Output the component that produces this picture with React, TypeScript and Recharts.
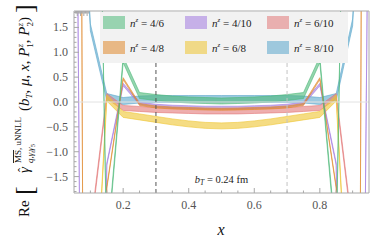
import React from 'react';
import { ComposedChart, Area, XAxis, YAxis, ReferenceLine, ReferenceDot } from 'recharts';

// x grid of the kernel and central values for each momentum pair
const xs = [0.05, 0.1, 0.15, 0.2, 0.25, 0.3, 0.35, 0.4, 0.45, 0.5, 0.55, 0.6, 0.65, 0.7, 0.75, 0.8, 0.85, 0.9, 0.95];
const nz46 = [10, 15, -3.0, 0.85, 0.13, 0.09, 0.06, 0.04, 0.03, 0.02, 0.03, 0.04, 0.06, 0.09, 0.13, 0.85, -2.9, 15, 10];
const nz48 = [40, -40, -1.72, 0.47, -0.05, -0.1, -0.12, -0.13, -0.14, -0.145, -0.14, -0.13, -0.12, -0.1, -0.05, 0.47, -1.72, -40, 40];
const nz410 = [12, -30, -1.25, 0.35, -0.03, -0.07, -0.09, -0.1, -0.11, -0.11, -0.11, -0.1, -0.09, -0.07, -0.03, 0.35, -1.25, -30, 6];
const nz68 = [-15, -6, 0.08, -0.25, -0.3, -0.35, -0.4, -0.44, -0.47, -0.48, -0.47, -0.44, -0.4, -0.35, -0.3, -0.25, 0.08, -6, -15];
const nz610 = [-6, -2.6, 0.12, -0.12, -0.14, -0.16, -0.17, -0.18, -0.19, -0.19, -0.19, -0.18, -0.17, -0.16, -0.14, -0.12, 0.12, -2.6, -6];
const nz810 = [8, 1.5, 0.1, 0.02, 0.05, 0.06, 0.06, 0.06, 0.06, 0.06, 0.06, 0.06, 0.06, 0.06, 0.05, 0.02, 0.1, 1.6, 8];

const xTicks = [0.1, 0.15, 0.2, 0.25, 0.3, 0.35, 0.4, 0.45, 0.5, 0.55, 0.6, 0.65, 0.7, 0.75, 0.8, 0.85, 0.9];
const yTicks = [-1.8, -1.7, -1.6, -1.5, -1.4, -1.3, -1.2, -1.1, -1.0, -0.9, -0.8, -0.7, -0.6, -0.5, -0.4, -0.3, -0.2, -0.1, 0,
  0.1, 0.2, 0.3, 0.4, 0.5, 0.6, 0.7, 0.8, 0.9, 1.0, 1.1, 1.2, 1.3, 1.4, 1.5, 1.6, 1.7, 1.8];

const serif = '"Liberation Serif", "DejaVu Serif", serif';
const frame = '#a8a8a8';

const series = [
  { key: 'b810', label: '8/10', color: '#5aa6cc', hw: 0.07, vals: nz810 },
  { key: 'r610', label: '6/10', color: '#e27878', hw: 0.05, vals: nz610 },
  { key: 'y68', label: '6/8', color: '#efc530', hw: 0.06, vals: nz68 },
  { key: 'p410', label: '4/10', color: '#a27ae0', hw: 0.025, vals: nz410 },
  { key: 'o48', label: '4/8', color: '#e0892c', hw: 0.02, vals: nz48 },
  { key: 'g46', label: '4/6', color: '#4fb97a', hw: 0.06, vals: nz46 },
];
const legendOrder = ['g46', 'p410', 'r610', 'o48', 'y68', 'b810'];

const rows = xs.map((x, i) => {
  const row: any = { x };
  series.forEach((s) => { row[s.key] = [s.vals[i] - s.hw, s.vals[i] + s.hw]; });
  return row;
});

const isMult = (v: number, step: number) => Math.abs(v / step - Math.round(v / step)) < 1e-6;
const fmt = (v: number) => (v < 0 ? '\u2212' : '') + Math.abs(v).toFixed(1);

const LeftTick = ({ x, y, payload }: any) => {
  const major = isMult(payload.value, 0.5);
  return (
    <g>
      <line x1={x} x2={x + (major ? 5 : 2.5)} y1={y} y2={y} stroke={frame} />
      {major && <text x={x - 6} y={y + 4} textAnchor="end" fontFamily={serif} fontSize={12} fill="#555">{fmt(payload.value)}</text>}
    </g>
  );
};
const RightTick = ({ x, y, payload }: any) => {
  const major = isMult(payload.value, 0.5);
  return <line x1={x} x2={x - (major ? 5 : 2.5)} y1={y} y2={y} stroke={frame} />;
};
const BottomTick = ({ x, y, payload }: any) => {
  const major = isMult(payload.value, 0.2);
  return (
    <g>
      <line x1={x} x2={x} y1={y} y2={y - (major ? 5 : 2.5)} stroke={frame} />
      {major && <text x={x} y={y + 16} textAnchor="middle" fontFamily={serif} fontSize={12} fill="#555">{fmt(payload.value)}</text>}
    </g>
  );
};
const TopTick = ({ x, y, payload }: any) => {
  const major = isMult(payload.value, 0.2);
  return <line x1={x} x2={x} y1={y} y2={y + (major ? 5 : 2.5)} stroke={frame} />;
};

const YLabel = () => (
  <text transform="translate(29,217) rotate(-90)" fontFamily={serif} fontSize={15} fill="#111">
    <tspan x={0} y={0}>Re</tspan>
    <tspan x={22} y={4} fontSize={26} fontWeight={300}>[</tspan>
    <tspan x={44} y={0} fontStyle="italic">γ</tspan>
    <tspan x={45} y={-2} fontSize={12}>ˆ</tspan>
    <tspan x={54} y={-8} fontSize={9} textDecoration="overline">MS</tspan>
    <tspan fontSize={9}>, uNNLL</tspan>
    <tspan x={54} y={4} fontSize={9} fontStyle="italic">q,γ</tspan>
    <tspan y={6} fontSize={6.5} fontStyle="italic">t</tspan>
    <tspan y={4} fontSize={9} fontStyle="italic">γ</tspan>
    <tspan y={6} fontSize={6.5}>5</tspan>
    <tspan x={106} y={0}>(</tspan>
    <tspan fontStyle="italic">b</tspan>
    <tspan y={3} fontSize={9} fontStyle="italic">T</tspan>
    <tspan y={0}>, </tspan>
    <tspan fontStyle="italic">μ</tspan>
    <tspan>, </tspan>
    <tspan fontStyle="italic">x</tspan>
    <tspan>, </tspan>
    <tspan fontStyle="italic">P</tspan>
    <tspan y={-6} fontSize={9} fontStyle="italic">z</tspan>
    <tspan y={4} dx={-3.6} fontSize={9}>1</tspan>
    <tspan y={0}>, </tspan>
    <tspan fontStyle="italic">P</tspan>
    <tspan y={-6} fontSize={9} fontStyle="italic">z</tspan>
    <tspan y={4} dx={-3.6} fontSize={9}>2</tspan>
    <tspan y={0}>)</tspan>
    <tspan x={204} y={4} fontSize={26}>]</tspan>
  </text>
);

const XLabel = () => (
  <text x={221} y={235} textAnchor="middle" fontFamily={serif} fontSize={16} fontStyle="italic" fill="#111">x</text>
);

const Annotation = (p: any) => (
  <text x={p.cx} y={p.cy} textAnchor="middle" fontFamily={serif} fontSize={10.5} fill="#222">
    <tspan fontStyle="italic">b</tspan>
    <tspan dy={2} fontSize={7.5} fontStyle="italic">T</tspan>
    <tspan dy={-2}> = 0.24 fm</tspan>
  </text>
);

const Legend = () => (
  <div style={{ position: 'absolute', left: 100, top: 12, width: 248, height: 51, background: '#f2f2f2', fontFamily: serif, fontSize: 11, color: '#222' }}>
    {legendOrder.map((k, i) => {
      const s = series.find((t) => t.key === k)!;
      const col = i % 3;
      const row = Math.floor(i / 3);
      return (
        <div key={k} style={{ position: 'absolute', left: 3 + col * 82, top: 4 + row * 25, display: 'flex', alignItems: 'center', whiteSpace: 'nowrap' }}>
          <div style={{ width: 22, height: 13, background: s.color, opacity: 0.55, marginRight: 5 }} />
          <span><i>n</i><sup style={{ fontSize: 7, fontStyle: 'italic' }}>z</sup> = {s.label}</span>
        </div>
      );
    })}
  </div>
);

export default function App() {
  return (
    <div style={{ position: 'absolute', left: 0, top: 0, width: 382, height: 243, background: '#fff' }}>
      <ComposedChart width={382} height={243} data={rows} margin={{ top: 0, right: 0, bottom: 0, left: 0 }}>
        <XAxis dataKey="x" type="number" domain={[0.05, 0.95]} allowDataOverflow ticks={xTicks} interval={0}
          tick={<BottomTick />} tickSize={0} tickMargin={0} tickLine={false} axisLine={{ stroke: frame }} height={50}
          label={{ content: () => <XLabel /> }} />
        <XAxis xAxisId="top" orientation="top" type="number" domain={[0.05, 0.95]} ticks={xTicks} interval={0}
          tick={<TopTick />} tickSize={0} tickMargin={0} tickLine={false} axisLine={{ stroke: frame }} height={11} />
        <YAxis type="number" domain={[-1.83, 1.83]} allowDataOverflow ticks={yTicks} interval={0}
          tick={<LeftTick />} tickSize={0} tickMargin={0} tickLine={false} axisLine={{ stroke: frame }} width={74}
          label={{ content: () => <YLabel /> }} />
        <YAxis yAxisId="right" orientation="right" type="number" domain={[-1.83, 1.83]} ticks={yTicks} interval={0}
          tick={<RightTick />} tickSize={0} tickMargin={0} tickLine={false} axisLine={{ stroke: frame }} width={13} />
        <ReferenceLine y={0} stroke="#e2e2e2" />
        <ReferenceLine x={0.3} stroke="#555" strokeDasharray="4 3" />
        <ReferenceLine x={0.7} stroke="#c4c4c4" strokeDasharray="4 3" />
        {series.map((s) => (
          <Area key={s.key} dataKey={s.key} type="linear" fill={s.color} fillOpacity={0.6}
            stroke={s.color} strokeOpacity={0.6} strokeWidth={1} isAnimationActive={false} dot={false} activeDot={false} />
        ))}
        <ReferenceDot x={0.5} y={-1.62} r={0} shape={(p: any) => <Annotation {...p} />} />
      </ComposedChart>
      <Legend />
    </div>
  );
}
